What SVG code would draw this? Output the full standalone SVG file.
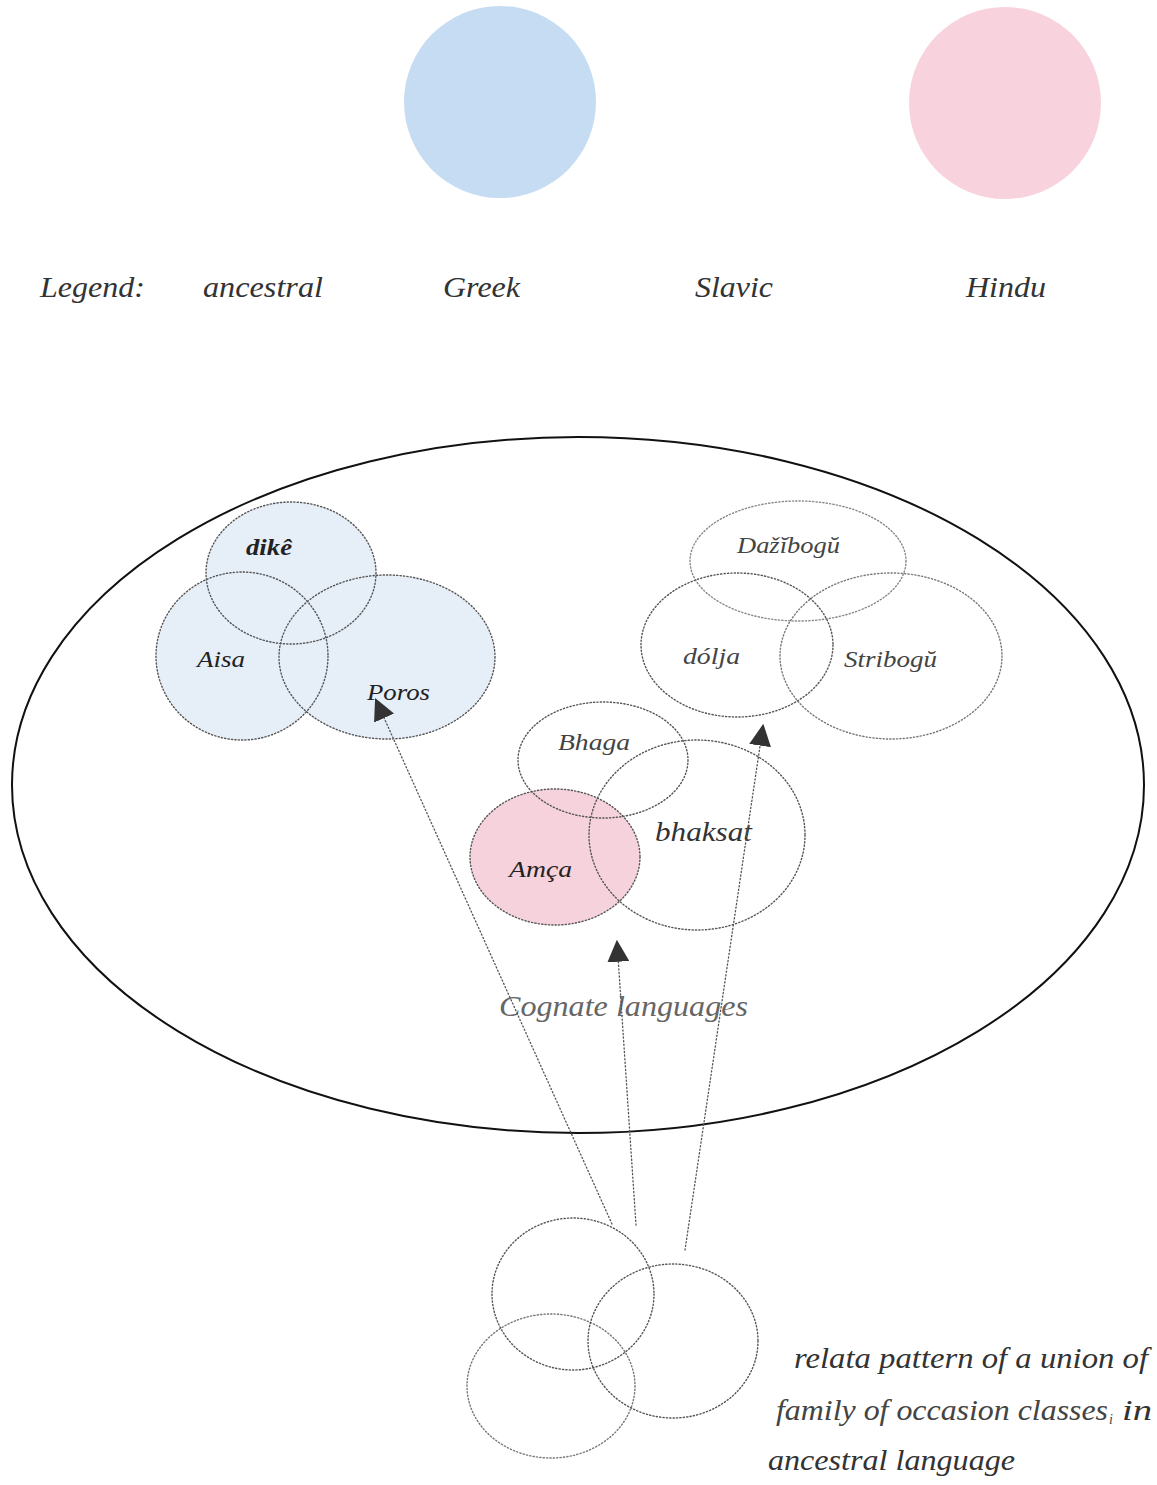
<svg xmlns="http://www.w3.org/2000/svg" width="1157" height="1485" viewBox="0 0 1157 1485">
<style>
.t{font-family:"Liberation Serif","DejaVu Serif",serif;font-style:italic;fill:#222}
.leg{font-size:30px;fill:#333}
.lbl{font-size:23px}
.dot{fill:none;stroke:#555;stroke-width:1.4;stroke-dasharray:1.2 2.2;stroke-linecap:round}
.arr{fill:none;stroke:#555;stroke-width:1.3;stroke-dasharray:1.2 2.4;stroke-linecap:round}
.blue{fill:#e6eef8}
</style>
<defs>
<marker id="ah" viewBox="0 0 10 10" refX="9" refY="5" markerWidth="22" markerHeight="22" markerUnits="userSpaceOnUse" orient="auto">
<path d="M0,0 L10,5 L0,10 Z" fill="#333"/>
</marker>
</defs>
<rect width="1157" height="1485" fill="#fff"/>
<g id="legend">
<ellipse cx="500" cy="102" rx="96" ry="96" fill="#c6dcf3"/>
<ellipse cx="1005" cy="103" rx="96" ry="96" fill="#f8d3de"/>
<text class="t leg" x="40" y="297" textLength="105" lengthAdjust="spacingAndGlyphs">Legend:</text>
<text class="t leg" x="203" y="297" textLength="120" lengthAdjust="spacingAndGlyphs">ancestral</text>
<text class="t leg" x="443" y="297" textLength="77" lengthAdjust="spacingAndGlyphs">Greek</text>
<text class="t leg" x="695" y="297" textLength="78" lengthAdjust="spacingAndGlyphs">Slavic</text>
<text class="t leg" x="966" y="297" textLength="80" lengthAdjust="spacingAndGlyphs">Hindu</text>
</g>
<g id="cognate-languages">
<ellipse cx="578" cy="785" rx="566" ry="348" fill="none" stroke="#111" stroke-width="2"/>
<text class="t" x="499" y="1016" font-size="29" textLength="249" lengthAdjust="spacingAndGlyphs" style="fill:#666">Cognate languages</text>
</g>
<g id="greek">
<ellipse class="blue" cx="291" cy="573" rx="85" ry="71"/>
<ellipse class="blue" cx="242" cy="656" rx="86" ry="84"/>
<ellipse class="blue" cx="387" cy="657" rx="108" ry="82"/>
<g id="dike"><ellipse class="dot" cx="291" cy="573" rx="85" ry="71"/><text class="t lbl" x="246" y="555" font-weight="bold" textLength="46" lengthAdjust="spacingAndGlyphs">dikê</text></g>
<g id="aisa"><ellipse class="dot" cx="242" cy="656" rx="86" ry="84"/><text class="t lbl" x="197" y="667" textLength="48" lengthAdjust="spacingAndGlyphs">Aisa</text></g>
<g id="poros"><ellipse class="dot" cx="387" cy="657" rx="108" ry="82"/><text class="t lbl" x="367" y="700" textLength="63" lengthAdjust="spacingAndGlyphs">Poros</text></g>
</g>
<g id="slavic">
<g id="dazibogu"><ellipse class="dot" cx="798" cy="561" rx="108" ry="60" style="stroke:#888"/><text class="t lbl" x="737" y="553" textLength="103" lengthAdjust="spacingAndGlyphs" style="fill:#444">Dažĭbogŭ</text></g>
<g id="dolja"><ellipse class="dot" cx="737" cy="645" rx="96" ry="72"/><text class="t lbl" x="683" y="664" textLength="57" lengthAdjust="spacingAndGlyphs" style="fill:#444">dólja</text></g>
<g id="stribogu"><ellipse class="dot" cx="891" cy="656" rx="111" ry="83" style="stroke:#777"/><text class="t lbl" x="844" y="667" textLength="93" lengthAdjust="spacingAndGlyphs" style="fill:#444">Stribogŭ</text></g>
</g>
<g id="hindu">
<ellipse cx="555" cy="857" rx="85" ry="68" fill="#f6d2dd"/>
<g id="bhaga"><ellipse class="dot" cx="603" cy="760" rx="85" ry="58"/><text class="t lbl" x="558" y="750" textLength="72" lengthAdjust="spacingAndGlyphs" style="fill:#444">Bhaga</text></g>
<g id="amca"><ellipse class="dot" cx="555" cy="857" rx="85" ry="68"/><text class="t lbl" x="509" y="877" textLength="63" lengthAdjust="spacingAndGlyphs">Amça</text></g>
<g id="bhaksat"><ellipse class="dot" cx="697" cy="835" rx="108" ry="95"/><text class="t" x="655" y="841" font-size="27" textLength="97" lengthAdjust="spacingAndGlyphs" style="fill:#333">bhaksat</text></g>
</g>
<g id="ancestral">
<ellipse class="dot" cx="573" cy="1294" rx="81" ry="76"/>
<ellipse class="dot" cx="551" cy="1386" rx="84" ry="72" style="stroke:#777"/>
<ellipse class="dot" cx="673" cy="1341" rx="85" ry="77"/>
<text class="t" font-size="29" x="794" y="1368" textLength="354" lengthAdjust="spacingAndGlyphs" style="fill:#333">relata pattern of a union of</text>
<text class="t" font-size="29" x="776" y="1420" textLength="332" lengthAdjust="spacingAndGlyphs" style="fill:#444">family of occasion classes</text>
<text class="t" font-size="14" x="1109" y="1424" style="fill:#444">i</text>
<text class="t" font-size="29" x="1122" y="1420" textLength="30" lengthAdjust="spacingAndGlyphs" style="fill:#333">in</text>
<text class="t" font-size="29" x="768" y="1470" textLength="247" lengthAdjust="spacingAndGlyphs" style="fill:#333">ancestral language</text>
</g>
<g id="connectors">
<line class="arr" x1="612" y1="1224" x2="376" y2="700" marker-end="url(#ah)"/>
<line class="arr" x1="636" y1="1225" x2="617" y2="942" marker-end="url(#ah)"/>
<line class="arr" x1="685" y1="1250" x2="763" y2="726" marker-end="url(#ah)"/>
</g>
</svg>
